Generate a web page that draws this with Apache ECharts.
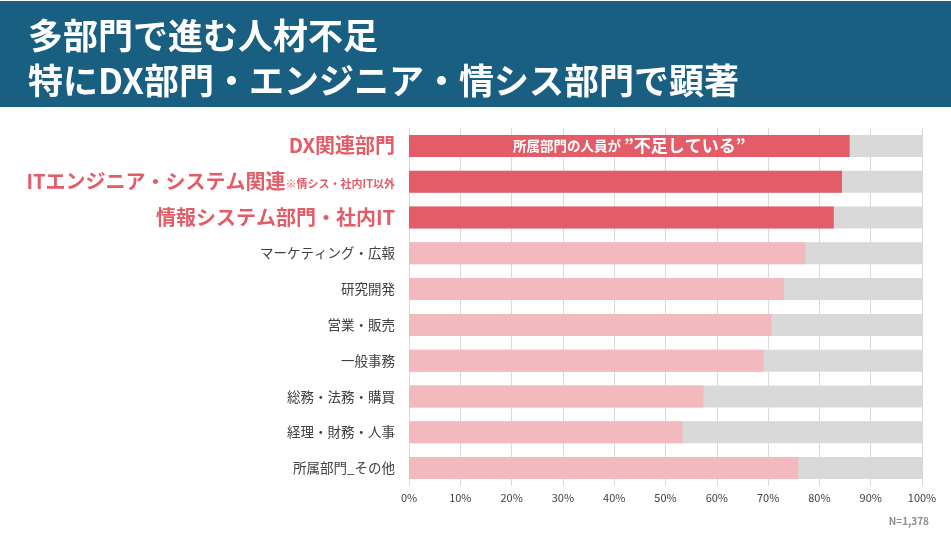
<!DOCTYPE html>
<html>
<head>
<meta charset="utf-8">
<script src="https://cdn.jsdelivr.net/npm/echarts@6/dist/echarts.min.js"></script>
<style>
  html, body { margin: 0; padding: 0; background: #fff; }
  #main { width: 951px; height: 540px; }
</style>
</head>
<body>
<div id="main"></div>
<script>
// 部門ごとの人材不足の割合 (%)
const categories = [
  'DX関連部門',
  'ITエンジニア・システム関連',
  '情報システム部門・社内IT',
  'マーケティング・広報',
  '研究開発',
  '営業・販売',
  '一般事務',
  '総務・法務・購買',
  '経理・財務・人事',
  '所属部門_その他'
]
const notes = ['', '※情シス・社内IT以外', '', '', '', '', '', '', '', '']
const shortage = [85.9, 84.4, 82.8, 77.3, 73.1, 70.7, 69.1, 57.4, 53.3, 75.9]
const highlightCount = 3

const titleLines = ['多部門で進む人材不足', '特にDX部門・エンジニア・情シス部門で顕著']
const barLabel = ['所属部門の人員が ', '”不足している”']
const sampleNote = 'N=1,378'

const FONT = '"Noto Sans CJK JP", "Noto Sans", sans-serif'
const RED = '#e35c67'
const PINK = '#f2b9bf'

const chart = echarts.init(document.getElementById('main'))

const barData = shortage.map((v, i) => {
  const item = {
    value: v,
    itemStyle: { color: i < highlightCount ? RED : PINK }
  }
  if (i === 0) {
    item.label = {
      show: true,
      position: 'inside',
      formatter: '{a|' + barLabel[0] + '}{b|' + barLabel[1] + '}',
      rich: {
        a: { color: '#fff', fontSize: 13.5, fontWeight: 'bold', fontFamily: FONT },
        b: { color: '#fff', fontSize: 17, fontWeight: 'bold', fontFamily: FONT }
      }
    }
  }
  return item
})

const option = {
  backgroundColor: '#fff',
  textStyle: { fontFamily: FONT },
  graphic: [
    {
      type: 'rect',
      left: 0, top: 1,
      shape: { width: 951, height: 106 },
      style: { fill: '#185f82' },
      silent: true
    },
    {
      type: 'text',
      left: 28, top: 13,
      style: {
        text: titleLines.join('\n'),
        fill: '#fff',
        font: 'bold 35px ' + FONT,
        lineHeight: 45
      }
    },
    {
      type: 'text',
      right: 22, top: 516,
      style: {
        text: sampleNote,
        fill: '#8c8c8c',
        font: 'bold 10px ' + FONT
      }
    }
  ],
  grid: { left: 409, right: 29, top: 128, bottom: 54 },
  xAxis: {
    type: 'value',
    min: 0,
    max: 100,
    interval: 10,
    axisLine: { show: false },
    axisTick: { show: false },
    splitLine: { lineStyle: { color: '#d9d9d9', width: 1 } },
    axisLabel: {
      formatter: '{value}%',
      color: '#404040',
      fontSize: 11,
      margin: 6,
      fontFamily: FONT
    }
  },
  yAxis: {
    type: 'category',
    inverse: true,
    data: categories,
    axisLine: { show: false },
    axisTick: { show: false },
    axisLabel: {
      margin: 14,
      formatter: function (name, idx) {
        if (idx < highlightCount) {
          return '{big|' + name + '}' + (notes[idx] ? '{note|' + notes[idx] + '}' : '')
        }
        return '{small|' + name + '}'
      },
      rich: {
        big: { color: RED, fontSize: 20, fontWeight: 'bold', fontFamily: FONT },
        note: { color: RED, fontSize: 11, fontWeight: 'bold', fontFamily: FONT, padding: [5, 0, 0, 0] },
        small: { color: '#404040', fontSize: 13.5, fontFamily: FONT }
      }
    }
  },
  series: [
    {
      type: 'bar',
      data: barData,
      barWidth: 22,
      showBackground: true,
      backgroundStyle: { color: '#d9d9d9' },
      animation: false
    }
  ]
}

chart.setOption(option)
</script>
</body>
</html>
